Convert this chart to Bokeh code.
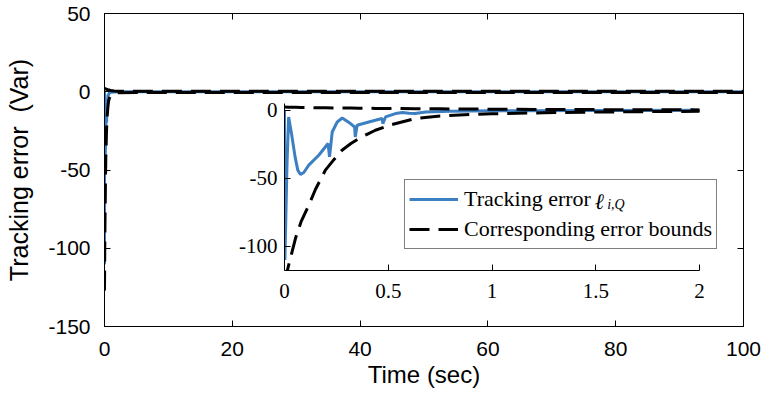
from bokeh.plotting import figure
from bokeh.models import (Range1d, LinearAxis, FixedTicker, CustomJSTickFormatter,
                          Legend, LegendItem, Label)
from bokeh.layouts import column
from bokeh.embed import file_html
from bokeh.resources import INLINE

# ---------------- data ----------------
t_err = [0, 0.002, 0.012, 0.02, 0.035, 0.051, 0.064, 0.077, 0.093, 0.117, 0.165,
         0.21, 0.217, 0.23, 0.254, 0.278, 0.318, 0.338, 0.341, 0.35, 0.406,
         0.47, 0.474, 0.487, 0.535, 0.568, 0.6, 0.63, 0.68, 0.8, 1.0, 2.0, 100]
e_err = [0, -110.3, -40, -4.9, -18.4, -34.3, -44.1, -47.3, -45.8, -40.4, -33.1,
         -24.5, -34.3, -16.0, -8.6, -5.7, -9.8, -12.3, -19.6, -11.0, -8.6,
         -6.1, -9.8, -4.9, -2.4, -1.7, -2.2, -2.4, -1.2, -0.7, -0.4, 0, 0]

t_bnd = [0, 0.02, 0.053, 0.08, 0.117, 0.15, 0.197, 0.24, 0.277, 0.32, 0.358, 0.4,
         0.438, 0.518, 0.63, 0.75, 0.9, 1.0, 1.25, 1.5, 1.75, 2.0, 5, 100]
lower_bnd = [-127, -114, -94.3, -82, -69.9, -58, -44.1, -36, -29.4, -24.5, -20.8,
             -17.5, -14.7, -10.5, -6.1, -4.2, -3.1, -2.6, -1.8, -1.3, -1.0, -0.7,
             -0.5, -0.5]
upper_bnd = [2.4, 2.3, 2.2, 2.1, 2.0, 1.9, 1.8, 1.7, 1.65, 1.6, 1.5, 1.45, 1.4,
             1.3, 1.2, 1.1, 0.9, 0.8, 0.65, 0.5, 0.4, 0.3, 0.3, 0.3]

x_ticks_main = [0, 20, 40, 60, 80, 100]
y_ticks_main = [-150, -100, -50, 0, 50]
x_ticks_inset = [0, 0.5, 1, 1.5, 2]
y_ticks_inset = [-100, -50, 0]

legend_labels = ["Tracking error", "Corresponding error bounds"]
legend_sym = "\u2113"
legend_sub = "i,Q"

BLUE = "#3c7fc3"
SANS = "Liberation Sans"
SERIF = "Liberation Serif"
DASH = "20 9"

fmt = CustomJSTickFormatter(code="return String(tick);")


def style_axis(ax, ticks, font, size, standoff):
    ax.ticker = FixedTicker(ticks=ticks)
    ax.formatter = fmt
    ax.axis_line_color = "black"
    ax.axis_line_width = 1
    ax.major_tick_line_color = "black"
    ax.major_tick_in = 6
    ax.major_tick_out = 0
    ax.minor_tick_line_color = None
    ax.major_label_text_font = font
    ax.major_label_text_font_size = size
    ax.major_label_text_color = "black"
    ax.major_label_standoff = standoff


# ---------------- main figure ----------------
p = figure(width=766, height=396, x_range=Range1d(0, 100), y_range=Range1d(-150, 50),
           output_backend="svg", toolbar_location=None,
           min_border_left=104, min_border_right=23, min_border_top=13,
           min_border_bottom=70)
p.xgrid.visible = False
p.ygrid.visible = False
p.outline_line_color = "black"
p.background_fill_color = "white"
p.border_fill_color = "white"

style_axis(p.below[0], x_ticks_main, SANS, "21px", 15)
style_axis(p.left[0], y_ticks_main, SANS, "21px", 14)
p.below[0].axis_label = "Time (sec)"
p.left[0].axis_label = "Tracking error \u00a0(Var)"
for ax in (p.below[0], p.left[0]):
    ax.axis_label_text_font = SANS
    ax.axis_label_text_font_style = "normal"
    ax.axis_label_text_color = "black"
p.below[0].axis_label_text_font_size = "24px"
p.left[0].axis_label_text_font_size = "25px"
p.below[0].axis_label_standoff = 2
p.left[0].axis_label_standoff = 12

top_ax = LinearAxis()
style_axis(top_ax, x_ticks_main, SANS, "0px", 0)
top_ax.major_label_text_alpha = 0
right_ax = LinearAxis()
style_axis(right_ax, y_ticks_main, SANS, "0px", 0)
right_ax.major_label_text_alpha = 0
p.add_layout(top_ax, "above")
p.add_layout(right_ax, "right")

mb = p.line(t_err, e_err, line_color=BLUE, line_width=3)
mu = p.line(t_bnd, upper_bnd, line_color="black", line_width=3, line_dash=DASH)
p.line(t_bnd, lower_bnd, line_color="black", line_width=3, line_dash=DASH)

# legend: drawn in the main figure's frame so it can extend past the inset
leg = Legend(items=[LegendItem(label=legend_labels[0], renderers=[mb]),
                    LegendItem(label=legend_labels[1], renderers=[mu])],
             location=(300, 77))
leg.label_text_font = SERIF
leg.label_text_font_size = "22px"
leg.label_text_color = "black"
leg.glyph_width = 49
leg.glyph_height = 30
leg.label_height = 30
leg.label_standoff = 6
leg.padding = 4
leg.spacing = 0
leg.margin = 0
leg.border_line_color = "black"
leg.border_line_width = 1
leg.background_fill_color = "white"
leg.background_fill_alpha = 1
p.add_layout(leg)

# ---------------- inset figure ----------------
q = figure(width=542, height=211, x_range=Range1d(0, 2), y_range=Range1d(-118, 5),
           output_backend="svg", toolbar_location=None,
           min_border_left=104, min_border_right=23, min_border_top=4,
           min_border_bottom=40)
q.xgrid.visible = False
q.ygrid.visible = False
q.outline_line_color = None
q.background_fill_alpha = 0
q.border_fill_alpha = 0
style_axis(q.below[0], x_ticks_inset, SERIF, "21px", 13)
style_axis(q.left[0], y_ticks_inset, SERIF, "21px", 7)

q.line(t_err, e_err, line_color=BLUE, line_width=3)
q.line(t_bnd, upper_bnd, line_color="black", line_width=3, line_dash=DASH)
q.line(t_bnd, lower_bnd, line_color="black", line_width=3, line_dash=DASH)

# the symbol of the legend entry, drawn on the inset (which lies above the legend)
q.add_layout(Label(x=1.495, y=-67.0, text=legend_sym,
                   text_font=SERIF, text_font_style="italic", text_font_size="22px",
                   text_color="black", text_baseline="alphabetic"))
q.add_layout(Label(x=1.555, y=-69.3, text=legend_sub,
                   text_font=SERIF, text_font_style="italic", text_font_size="14px",
                   text_color="black", text_baseline="alphabetic"))

q.styles = {"position": "absolute", "left": "180px", "top": "99px"}

layout = column(p, q, styles={"position": "relative"})

open("out.html", "w").write(file_html(layout, INLINE))
